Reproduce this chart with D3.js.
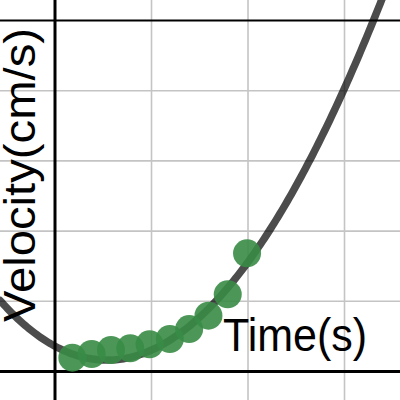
<!DOCTYPE html>
<html>
<head>
<meta charset="utf-8">
<script src="https://cdn.jsdelivr.net/npm/d3@7"></script>
<style>
  html, body { margin: 0; padding: 0; background: #fff; }
  svg { display: block; }
</style>
</head>
<body>
<svg id="chart" width="400" height="400"></svg>
<script>
// measured points (time in s, velocity in cm/s)
var timeValues = [0.18, 0.38, 0.58, 0.78, 0.98, 1.19, 1.39, 1.59, 1.79, 1.99];
var velocityValues = [0.197, 0.249, 0.306, 0.330, 0.387, 0.463, 0.605, 0.795, 1.10, 1.684];

// fitted curve  v = c0 + c1 t + c2 t^2 + c3 t^3
var fitCoefs = [0.36, -0.74, 0.70, -0.015];

var xGrid = [1, 2, 3];
var yGrid = [1, 2, 3, 4];
var yLine = 5;

var xLabel = "Time(s)";
var yLabel = "Velocity(cm/s)";

var width = 400, height = 400;
var svg = d3.select("#chart");

var x = d3.scaleLinear()
    .domain([-0.570, 3.575])
    .range([0, width]);
var y = d3.scaleLinear()
    .domain([-0.406, 5.292])
    .range([height, 0]);

// grid
svg.append("g").selectAll("line")
    .data(xGrid)
    .enter()
    .append("line")
    .attr("x1", function(d) { return x(d); })
    .attr("x2", function(d) { return x(d); })
    .attr("y1", 0)
    .attr("y2", height)
    .style("stroke", "#c4c4c4")
    .style("stroke-width", 1.6);

svg.append("g").selectAll("line")
    .data(yGrid)
    .enter()
    .append("line")
    .attr("x1", 0)
    .attr("x2", width)
    .attr("y1", function(d) { return y(d); })
    .attr("y2", function(d) { return y(d); })
    .style("stroke", "#c4c4c4")
    .style("stroke-width", 1.6);

// the horizontal line at the top
svg.append("line")
    .attr("x1", 0)
    .attr("x2", width)
    .attr("y1", y(yLine))
    .attr("y2", y(yLine))
    .style("stroke", "#000")
    .style("stroke-width", 2);

// axes
svg.append("line")
    .attr("x1", x(0)).attr("x2", x(0))
    .attr("y1", 0).attr("y2", height)
    .style("stroke", "#000")
    .style("stroke-width", 3);
svg.append("line")
    .attr("x1", 0).attr("x2", width)
    .attr("y1", y(0)).attr("y2", y(0))
    .style("stroke", "#000")
    .style("stroke-width", 3);

// curve
function fit(t) {
    var v = 0;
    for (var i = 0; i < fitCoefs.length; i++) {
        v += fitCoefs[i] * Math.pow(t, i);
    }
    return v;
}
var samples = d3.range(x.domain()[0], 3.7, 0.02);
var line = d3.line()
    .x(function(d) { return x(d); })
    .y(function(d) { return y(fit(d)); });
svg.append("path")
    .datum(samples)
    .attr("d", line)
    .style("fill", "none")
    .style("stroke", "#000")
    .style("stroke-opacity", 0.7)
    .style("stroke-width", 7.5)
    .style("stroke-linecap", "round");

// points
svg.append("g").selectAll("circle")
    .data(timeValues)
    .enter()
    .append("circle")
    .attr("cx", function(d) { return x(d); })
    .attr("cy", function(d, i) { return y(velocityValues[i]); })
    .attr("r", 14)
    .style("fill", "#388c46")
    .style("fill-opacity", 0.9);

// labels
svg.append("text")
    .attr("x", 223)
    .attr("y", 351)
    .attr("textLength", 144)
    .attr("lengthAdjust", "spacingAndGlyphs")
    .style("font-family", "'Liberation Sans', Arial, sans-serif")
    .style("font-size", "46px")
    .style("fill", "#000")
    .text(xLabel);

svg.append("text")
    .attr("transform", "translate(35,322) rotate(-90)")
    .attr("textLength", 294)
    .attr("lengthAdjust", "spacingAndGlyphs")
    .style("font-family", "'Liberation Sans', Arial, sans-serif")
    .style("font-size", "45px")
    .style("fill", "#000")
    .text(yLabel);
</script>
</body>
</html>
